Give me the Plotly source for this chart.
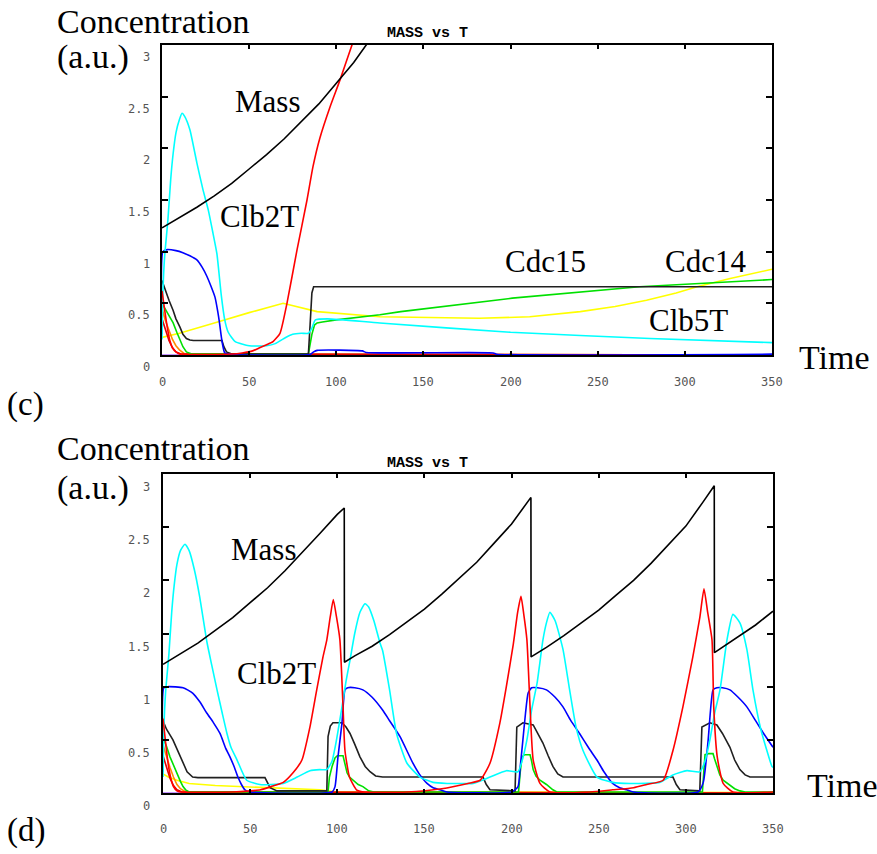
import plotly.graph_objects as go

W, H = 877, 854

# ---------------- data, panel (c) : (time, concentration) pairs ----------------
c_mass = [(0, 1.23), (10, 1.33), (20, 1.43), (30, 1.54), (40, 1.66), (50, 1.80), (60, 1.94),
          (70, 2.09), (80, 2.26), (90, 2.43), (100, 2.63), (110, 2.83), (118, 3.02), (125, 3.2)]
c_clb2 = [(0, 0.62), (1, 0.5), (2, 0.38), (3, 0.27), (4.5, 0.14), (6, 0.07), (8, 0.03), (10, 0.01),
          (40, 0.01), (46, 0.02), (52, 0.04), (56, 0.07), (60, 0.1), (63.7, 0.13), (67.7, 0.21),
          (71.7, 0.5), (77.5, 1.02), (83.2, 1.5), (86.6, 1.82), (90.6, 2.1), (96.4, 2.4), (102.1, 2.66),
          (109, 3.0), (114, 3.25)]
c_cyan = [(0, 0.15), (0.5, 0.6), (1.5, 0.95), (3.4, 1.31), (5, 1.7), (6.4, 1.95), (8, 2.15), (10, 2.28),
          (11.5, 2.34), (13, 2.31), (16, 2.18), (20, 1.86), (23.5, 1.6), (26.6, 1.4), (29, 1.2),
          (31.5, 0.98), (34, 0.58), (36, 0.34), (38, 0.22), (42, 0.13), (50, 0.09), (60, 0.09),
          (65, 0.11), (70, 0.16), (75, 0.2), (80, 0.21), (84, 0.21), (86, 0.26), (88, 0.34), (95, 0.35),
          (125, 0.31), (200, 0.22), (280, 0.16), (350, 0.12)]
c_blue = [(0, 0.2), (0.5, 1.0), (3, 1.02), (8, 1.01), (12, 0.99), (16, 0.96), (20, 0.92), (23, 0.85),
          (25.8, 0.76), (28, 0.67), (30.4, 0.56), (32, 0.42), (33, 0.31), (34, 0.18), (35, 0.08),
          (36, 0.02), (40, 0.005), (85, 0.005), (87, 0.03), (89, 0.045), (115, 0.04), (117, 0.025),
          (190, 0.02), (192, 0.008), (350, 0.008)]
c_cdc15 = [(0, 0.72), (2, 0.62), (4, 0.53), (6.4, 0.43), (8, 0.35), (10.3, 0.27), (12, 0.2), (14, 0.16),
           (16, 0.145), (18, 0.14), (34.4, 0.14), (35.5, 0.08), (37, 0.03), (40, 0.01), (84, 0.01),
           (85, 0.3), (86, 0.6), (87, 0.66), (350, 0.66)]
c_cdc14 = [(0, 0.5), (2, 0.44), (4, 0.38), (6.4, 0.31), (8.5, 0.22), (10.3, 0.15), (12, 0.08), (14, 0.03),
           (17, 0.01), (84, 0.01), (86, 0.2), (87.5, 0.29), (89, 0.31), (92, 0.32), (100, 0.34),
           (125, 0.39), (137, 0.42), (201, 0.55), (274, 0.66), (350, 0.73)]
c_yellow = [(0, 0.17), (10, 0.21), (30, 0.31), (50, 0.41), (69.5, 0.5), (89, 0.42), (125, 0.37),
            (154, 0.36), (182, 0.355), (211, 0.37), (240, 0.42), (260, 0.47), (278, 0.53), (295, 0.6),
            (307, 0.66), (326, 0.74), (350, 0.83)]
c_orange = [(0, 0.45), (2, 0.33), (4, 0.24), (6, 0.15), (8, 0.09), (10, 0.05), (13, 0.01), (350, 0.0)]
c_darkred = [(0, 0.35), (2, 0.24), (4, 0.14), (6, 0.07), (8, 0.03), (11, 0.01), (350, 0.0)]
c_purple = [(0, 0.0), (350, 0.0)]

# ---------------- data, panel (d) ----------------
d_mass = [(0, 1.21), (10, 1.31), (20, 1.41), (30, 1.53), (40, 1.65), (50, 1.79), (60, 1.93), (70, 2.09),
          (80, 2.26), (90, 2.44), (100, 2.62), (104, 2.68), (104.1, 1.23), (110, 1.29), (120, 1.38),
          (130, 1.49), (140, 1.61), (150, 1.73), (160, 1.87), (170, 2.02), (180, 2.17), (190, 2.35),
          (200, 2.53), (211.1, 2.78), (211.2, 1.28), (220, 1.37), (230, 1.48), (240, 1.60), (250, 1.72),
          (260, 1.86), (270, 2.0), (280, 2.16), (290, 2.33), (300, 2.51), (310, 2.74), (316.3, 2.89),
          (316.4, 1.32), (320, 1.36), (330, 1.47), (340, 1.58), (350, 1.71)]
d_clb2 = [(0, 0.7), (1, 0.55), (2, 0.4), (3, 0.27), (4.5, 0.14), (6, 0.06), (8, 0.02), (10, 0.01), (40, 0.01),
          (50, 0.02), (56, 0.03), (62, 0.06), (69, 0.1), (74.6, 0.19), (79.7, 0.31), (84.3, 0.62),
          (88.2, 0.97), (91.8, 1.28), (94, 1.44), (96, 1.66), (97.7, 1.82), (99.5, 1.66), (101.5, 1.44),
          (103.3, 0.81), (104.4, 0.4), (107, 0.15), (111, 0.03), (115, 0.01), (140, 0.01), (160, 0.04),
          (175, 0.09), (182, 0.12), (187.6, 0.28), (193.3, 0.66), (197, 1.0), (201, 1.4), (203.5, 1.7),
          (205.4, 1.85), (207, 1.68), (208.8, 1.44), (210.6, 0.81), (212.4, 0.31), (216.3, 0.09),
          (222, 0.01), (245, 0.01), (258, 0.03), (270, 0.05), (277.5, 0.08), (287, 0.12), (292.6, 0.4),
          (298.3, 0.81), (304, 1.28), (308, 1.65), (310.4, 1.92), (312.5, 1.7), (315, 1.44), (316, 0.81),
          (318, 0.34), (321.4, 0.09), (327, 0.01), (350, 0.01)]
d_cyan = [(0, 0.15), (0.5, 0.6), (1.5, 0.95), (3.4, 1.31), (5, 1.7), (6.4, 1.95), (8, 2.15), (10, 2.28),
          (12.6, 2.34), (15, 2.28), (18, 2.1), (21, 1.85), (25.2, 1.42), (28, 1.2), (31, 0.97), (34, 0.75),
          (36.7, 0.56), (39, 0.43), (42.5, 0.31), (48, 0.12), (55.6, 0.08), (62, 0.08), (69, 0.09),
          (77, 0.15), (84.3, 0.21), (90, 0.22), (94, 0.22), (97, 0.3), (99, 0.45), (102.7, 0.81),
          (105, 1.05), (107.3, 1.25), (110, 1.5), (113, 1.7), (115.9, 1.78), (118, 1.75), (121, 1.62),
          (124.5, 1.41), (126, 1.34), (130, 0.97), (134, 0.56), (140, 0.28), (147.4, 0.15), (155, 0.1),
          (163, 0.09), (170, 0.09), (178, 0.09), (187.6, 0.15), (197, 0.21), (203.7, 0.2), (206, 0.3),
          (208.8, 0.5), (211.5, 0.78), (214.6, 1.03), (218, 1.44), (220, 1.6), (222, 1.7), (225, 1.62),
          (229.5, 1.35), (233, 1.0), (237, 0.62), (241, 0.4), (249, 0.15), (258, 0.1), (268, 0.09),
          (285, 0.1), (292.6, 0.17), (300.6, 0.21), (308, 0.2), (311, 0.3), (313.8, 0.5), (316.5, 0.75),
          (319.6, 0.97), (323.6, 1.44), (327, 1.68), (331, 1.6), (335, 1.35), (338.5, 0.97), (343, 0.6),
          (349.4, 0.25), (350, 0.24)]
d_blue = [(0, 0.2), (0.5, 0.99), (3, 1.0), (11.5, 0.99), (17, 0.94), (21, 0.86), (25.2, 0.75), (29, 0.66),
          (32.7, 0.56), (36, 0.42), (38.4, 0.34), (41, 0.24), (43, 0.15), (45, 0.08), (47, 0.03), (50, 0.01),
          (97, 0.01), (98.7, 0.06), (100.4, 0.34), (102.7, 0.66), (104.4, 0.97), (106, 0.99), (110, 0.99),
          (114.7, 0.97), (120, 0.9), (126, 0.78), (130, 0.68), (136, 0.53), (143.4, 0.28), (147, 0.18),
          (151.5, 0.09), (155, 0.05), (159, 0.03), (163, 0.01), (200, 0.01), (203.7, 0.06), (205, 0.25),
          (206.5, 0.5), (208, 0.75), (209.5, 0.94), (211.5, 0.99), (215, 0.99), (220, 0.97), (225, 0.9),
          (229.5, 0.81), (234, 0.68), (239, 0.56), (244, 0.43), (249, 0.31), (253, 0.2), (258, 0.09),
          (262, 0.05), (266, 0.03), (270, 0.01), (307, 0.01), (310, 0.1), (312.8, 0.5), (314, 0.75),
          (315.6, 0.97), (317.8, 0.99), (321, 0.99), (325.3, 0.97), (330, 0.9), (335, 0.81), (340, 0.68),
          (345, 0.55), (350, 0.43)]
d_cdc15 = [(0, 0.68), (2, 0.6), (5.7, 0.5), (9.8, 0.34), (13.8, 0.2), (17, 0.15), (20, 0.145), (58.5, 0.145),
           (60, 0.09), (61.4, 0.05), (65.4, 0.02), (94, 0.02), (94.7, 0.53), (96, 0.63), (97.5, 0.66),
           (102.7, 0.66), (105, 0.62), (107.3, 0.56), (110, 0.46), (113, 0.34), (116, 0.25), (118.8, 0.2),
           (122, 0.16), (126, 0.15), (183.6, 0.15), (185.5, 0.08), (187.6, 0.03), (202, 0.02), (203, 0.62),
           (206.5, 0.66), (212.4, 0.64), (215, 0.56), (218, 0.47), (221, 0.35), (223.7, 0.25), (226.5, 0.18),
           (229.5, 0.15), (292.6, 0.15), (294.5, 0.08), (296.6, 0.03), (308, 0.02), (309.2, 0.62),
           (313.8, 0.66), (317.8, 0.64), (321, 0.56), (325.3, 0.43), (328, 0.31), (331, 0.22), (334, 0.17),
           (336.8, 0.15), (350, 0.15)]
d_cdc14 = [(0, 0.52), (2, 0.44), (4, 0.34), (6, 0.26), (8, 0.19), (10, 0.11), (11.5, 0.06), (13, 0.03),
           (15, 0.01), (94.7, 0.01), (95.5, 0.15), (97, 0.25), (98.7, 0.33), (100, 0.35), (103.3, 0.35),
           (104.5, 0.27), (105.6, 0.19), (107, 0.15), (109, 0.12), (112, 0.08), (114.7, 0.06), (118, 0.02),
           (121, 0.01), (204, 0.01), (205, 0.2), (206, 0.34), (207.5, 0.36), (210.6, 0.36), (211.5, 0.3),
           (212.4, 0.22), (214, 0.16), (216.3, 0.12), (220, 0.08), (223.7, 0.03), (226, 0.01), (309.5, 0.01),
           (310.3, 0.2), (311, 0.36), (313, 0.37), (315.6, 0.37), (316.5, 0.32), (317.8, 0.25), (319.5, 0.17),
           (321.4, 0.12), (325.3, 0.07), (328, 0.04), (331, 0.02), (334, 0.01), (350, 0.01)]
d_yellow = [(0, 0.18), (3, 0.15), (8, 0.12), (15, 0.09), (30, 0.07), (60, 0.05), (90, 0.03), (100, 0.01),
            (350, 0.005)]
d_orange = [(0, 0.45), (2, 0.34), (4, 0.24), (6, 0.15), (8, 0.08), (10, 0.04), (13, 0.01), (350, 0.0)]
d_darkred = [(0, 0.35), (2, 0.24), (4, 0.14), (6, 0.07), (8, 0.03), (11, 0.01), (350, 0.0)]
d_purple = [(0, 0.0), (350, 0.0)]

x_ticks = [0, 50, 100, 150, 200, 250, 300, 350]
y_ticks = [0, 0.5, 1, 1.5, 2, 2.5, 3]
y_tick_text = ["0", "0.5", "1", "1.5", "2", "2.5", "3"]

COL = {
    "purple": "#B070FF", "yellow": "#FFFF00", "orange": "#FF8C00", "darkred": "#E00000",
    "green": "#00E000", "cdc15": "#202020", "blue": "#0000FF", "cyan": "#00FFFF",
    "red": "#FF0000", "mass": "#000000",
}
SMOOTH = {"cyan", "blue", "red"}

fig = go.Figure()


def add(series, key, xa, ya, w=1.6):
    t, v = zip(*series)
    line = dict(color=COL[key], width=w)
    if key in SMOOTH:
        line.update(shape="spline", smoothing=0.5)
    fig.add_trace(go.Scatter(x=list(t), y=list(v), mode="lines", xaxis=xa, yaxis=ya,
                             line=line, showlegend=False, hoverinfo="skip"))


for xa, ya, S in [("x", "y", dict(purple=c_purple, yellow=c_yellow, orange=c_orange, darkred=c_darkred,
                                   green=c_cdc14, cdc15=c_cdc15, blue=c_blue, cyan=c_cyan, red=c_clb2,
                                   mass=c_mass)),
                  ("x2", "y2", dict(purple=d_purple, yellow=d_yellow, orange=d_orange, darkred=d_darkred,
                                    green=d_cdc14, cdc15=d_cdc15, blue=d_blue, cyan=d_cyan, red=d_clb2,
                                    mass=d_mass))]:
    for k, s in S.items():
        add(s, k, xa, ya)


def px(x):
    return x / W


def py(y):
    return 1 - y / H


axis_common = dict(showgrid=False, zeroline=False, showline=True, linecolor="black", linewidth=2,
                   mirror="ticks", ticks="inside", tickcolor="black", tickwidth=2,
                   showticklabels=False, fixedrange=True)

fig.update_layout(
    width=W, height=H, margin=dict(l=0, r=0, t=0, b=0),
    paper_bgcolor="white", plot_bgcolor="white",
    xaxis=dict(domain=[px(162), px(772)], anchor="y", range=[0, 350], tickvals=x_ticks, ticklen=4,
               **axis_common),
    yaxis=dict(domain=[py(355), py(45)], anchor="x", range=[0, 3], tickvals=y_ticks, ticklen=6,
               **axis_common),
    xaxis2=dict(domain=[px(163), px(773)], anchor="y2", range=[0, 350], tickvals=x_ticks, ticklen=4,
                **axis_common),
    yaxis2=dict(domain=[py(793), py(474)], anchor="x2", range=[0, 3], tickvals=y_ticks, ticklen=6,
                **axis_common),
)

ann = []
tick_font = dict(family="DejaVu Sans Mono", size=12, color="#555555")
for ya, xa, shift, xlab_y in [("y", "x", -12, 382), ("y2", "x2", -13, 829)]:
    for v, txt in zip(y_ticks, y_tick_text):
        ann.append(dict(x=px(152), xref="paper", y=v, yref=ya, yshift=shift, text=txt, showarrow=False,
                        xanchor="right", yanchor="middle", font=tick_font))
    for t in x_ticks:
        ann.append(dict(x=t, xref=xa, y=py(xlab_y), yref="paper", text=str(t), showarrow=False,
                        xanchor="center", yanchor="middle", font=tick_font))

title_font = dict(family="Liberation Mono", size=15, color="black")
for y in (33, 463):
    ann.append(dict(x=px(385), y=py(y), xref="paper", yref="paper", text="<b>MASS vs T</b>",
                    showarrow=False, xanchor="left", yanchor="middle", font=title_font))

labels = [
    ("Concentration", 55, 21, "left", 34), ("(a.u.)", 55, 57, "left", 34),
    ("Mass", 267, 101, "center", 31), ("Clb2T", 259, 217, "center", 31),
    ("Cdc15", 545, 261, "center", 31), ("Cdc14", 705, 261, "center", 31), ("Clb5T", 688, 320, "center", 31),
    ("Time", 834, 357, "center", 34), ("(c)", 5, 404, "left", 33),
    ("Concentration", 55, 448, "left", 34), ("(a.u.)", 55, 488, "left", 34),
    ("Mass", 263, 549, "center", 31), ("Clb2T", 276, 673, "center", 31),
    ("Time", 842, 785, "center", 34), ("(d)", 5, 830, "left", 33),
]
for txt, x, y, anchor, size in labels:
    ann.append(dict(x=px(x), y=py(y), xref="paper", yref="paper", text=txt, showarrow=False,
                    xanchor=anchor, yanchor="middle",
                    font=dict(family="Liberation Serif", size=size, color="black")))

fig.update_layout(annotations=ann)
fig.write_html("out.html")
